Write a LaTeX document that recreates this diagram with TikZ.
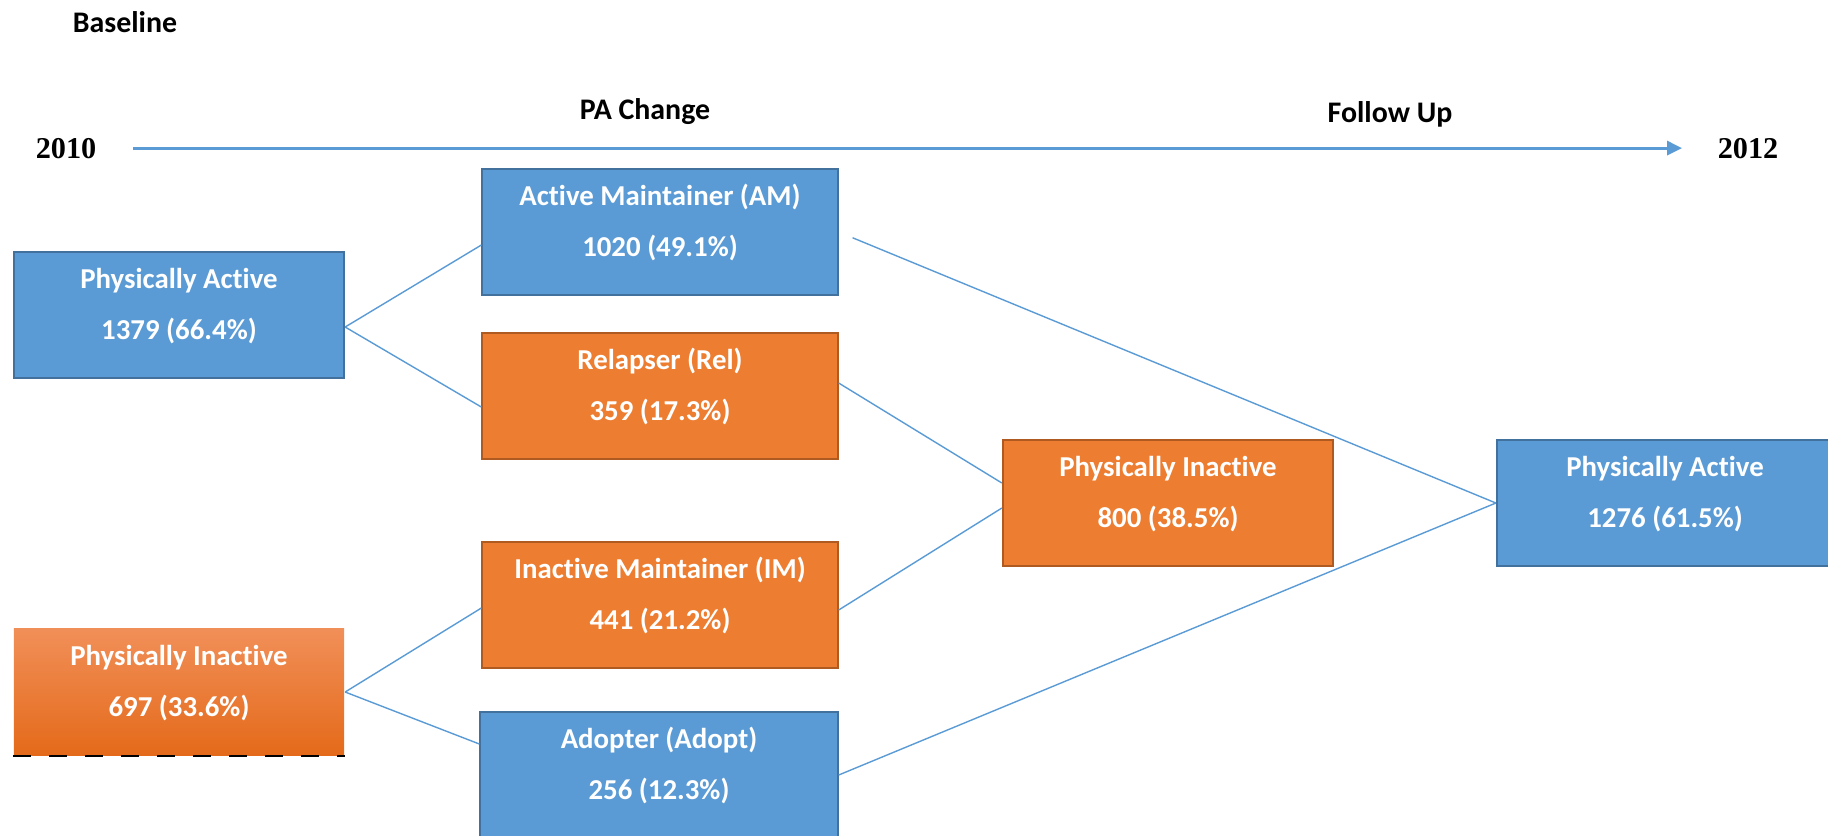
\documentclass[tikz,border=0pt]{standalone}
\usepackage{fontspec}
\setmainfont{Carlito}[Ligatures=NoCommon]
\newfontfamily\yearfont{Liberation Serif}
\usepackage{tikz}
\usetikzlibrary{arrows.meta, positioning, calc}
\definecolor{boxblue}{RGB}{91, 155, 213}
\definecolor{edgeblue}{RGB}{65, 113, 156}
\definecolor{boxorange}{RGB}{237, 125, 49}
\definecolor{edgeorange}{RGB}{174, 90, 33}
\definecolor{orangetop}{RGB}{241, 143, 88}
\definecolor{orangebot}{RGB}{228, 106, 26}

\begin{document}
\begin{tikzpicture}[
    x=0.01cm, y=-0.01cm,
    every node/.style={font=\bfseries},
    state/.style={rectangle, line width=0.6pt, inner sep=0pt, text=white, align=center, text height=0.875cm, text depth=0.385cm, font=\fontsize{8.2}{14.5}\selectfont\bfseries},
    activebox/.style={state, fill=boxblue, draw=edgeblue},
    inactivebox/.style={state, fill=boxorange, draw=edgeorange},
    heading/.style={anchor=base, inner sep=0pt, font=\fontsize{8.5}{10}\selectfont\bfseries},
    year/.style={anchor=base, inner sep=0pt, font=\fontsize{8.6}{10}\selectfont\yearfont\bfseries},
    link/.style={draw=boxblue, line width=0.4pt},
    timeline/.style={-{Triangle[length=0.15cm, width=0.14cm]}, draw=boxblue, line width=0.9pt}
]
\useasboundingbox (0,0) rectangle (1828,835);

% Headings and time axis
\node[heading] (hbase) at (125,32) {Baseline};
\node[heading] (hchange) at (645,119) {PA Change};
\node[heading] (hfollow) at (1390,122) {Follow Up};
\node[year] (y2010) at (66,158) {2010};
\node[year] (y2012) at (1748,158) {2012};
\draw[timeline, shorten <=0.36cm, shorten >=0.35cm] (y2010.east) -- (y2012.west);

% Column 1: Baseline status
\node[activebox, minimum width=3.30cm] (pa0) at (179,315) {Physically Active\\1379 (66.4\%)};
\node[state, draw=none, top color=orangetop, bottom color=orangebot, minimum width=3.30cm] (pi0) at (179,692) {Physically Inactive\\697 (33.6\%)};
\draw[black, line width=0.7pt, dash pattern=on 0.18cm off 0.18cm] (pi0.south west) -- (pi0.south east);

% Column 2: PA change groups
\node[activebox, minimum width=3.55cm] (am) at (660,232) {Active Maintainer (AM)\\1020 (49.1\%)};
\node[inactivebox, minimum width=3.55cm] (rel) at (660,396) {Relapser (Rel)\\359 (17.3\%)};
\node[inactivebox, minimum width=3.55cm] (im) at (660,605) {Inactive Maintainer (IM)\\441 (21.2\%)};
\node[activebox, minimum width=3.57cm] (adopt) at (659,775) {Adopter (Adopt)\\256 (12.3\%)};

% Column 3: Follow up status
\node[inactivebox, minimum width=3.30cm] (pif) at (1168,503) {Physically Inactive\\800 (38.5\%)};
\node[activebox, minimum width=3.36cm] (paf) at (1665,503) {Physically Active\\1276 (61.5\%)};

% Links baseline -> change
\draw[link] ([yshift=-0.12cm]pa0.east) -- ([yshift=-0.13cm]am.west);
\draw[link] ([yshift=-0.12cm]pa0.east) -- ([yshift=-0.11cm]rel.west);
\draw[link] (pi0.east) -- ([yshift=-0.03cm]im.west);
\draw[link] (pi0.east) -- ([yshift=0.31cm]adopt.west);

% Links change -> follow up
\draw[link, shorten <=0.15cm] (am.east) -- (paf.west);
\draw[link] ([yshift=0.13cm]rel.east) -- ([yshift=0.2cm]pif.west);
\draw[link] ([yshift=-0.05cm]im.east) -- ([yshift=-0.05cm]pif.west);
\draw[link] (adopt.east) -- (paf.west);

\end{tikzpicture}
\end{document}
